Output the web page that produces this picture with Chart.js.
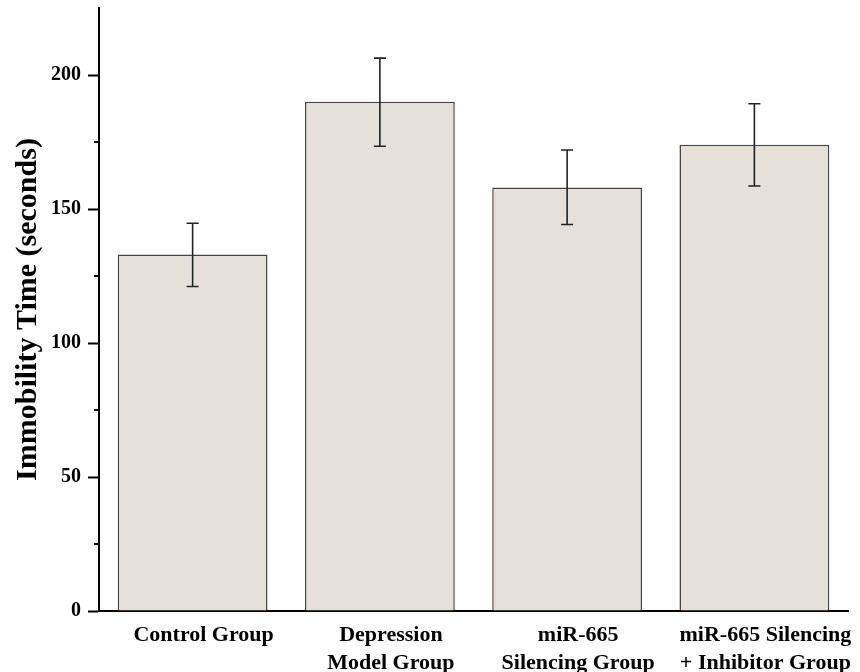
<!DOCTYPE html>
<html>
<head>
<meta charset="utf-8">
<script src="https://cdn.jsdelivr.net/npm/chart.js@4/dist/chart.umd.min.js"></script>
<style>
  html, body { margin: 0; padding: 0; background: #fff; }
</style>
</head>
<body>
<canvas id="grafica" width="860" height="672"></canvas>
<script>
const groups = [
    ['Control Group'],
    ['Depression', 'Model Group'],
    ['miR-665', 'Silencing Group'],
    ['miR-665 Silencing', '+ Inhibitor Group']
];
const immobility = [133, 190, 158, 174];
const errUp = [144.7, 206.3, 172.0, 189.3];
const errDown = [121.1, 173.4, 144.2, 158.6];
const yMajor = [0, 50, 100, 150, 200];
const yMinor = [25, 75, 125, 175];

const serif = '"Liberation Serif", "Times New Roman", serif';

// error bars + minor ticks, drawn through the chart's scales
const extras = {
    id: 'extras',
    afterDatasetsDraw(chart) {
        const ctx = chart.ctx;
        const x = chart.scales.x, y = chart.scales.y;
        ctx.save();
        ctx.strokeStyle = '#222';
        ctx.lineWidth = 1.6;
        immobility.forEach((v, i) => {
            const px = x.getPixelForValue(i);
            const top = y.getPixelForValue(errUp[i]);
            const bot = y.getPixelForValue(errDown[i]);
            ctx.beginPath();
            ctx.moveTo(px, top); ctx.lineTo(px, bot);
            ctx.moveTo(px - 6, top); ctx.lineTo(px + 6, top);
            ctx.moveTo(px - 6, bot); ctx.lineTo(px + 6, bot);
            ctx.stroke();
        });
        ctx.strokeStyle = '#000';
        ctx.lineWidth = 2;
        yMinor.forEach(v => {
            const py = y.getPixelForValue(v);
            ctx.beginPath();
            ctx.moveTo(y.right - 5, py); ctx.lineTo(y.right, py);
            ctx.stroke();
        });
        ctx.restore();
    }
};

new Chart(document.getElementById('grafica'), {
    type: 'bar',
    data: {
        labels: groups,
        datasets: [{
            data: immobility,
            backgroundColor: '#e6e0da',
            borderColor: '#444',
            borderWidth: 1.5,
            barPercentage: 0.8,
            categoryPercentage: 1
        }]
    },
    options: {
        responsive: false,
        animation: false,
        layout: {padding: {top: 8, right: 12, left: 0, bottom: 0}},
        plugins: {legend: {display: false}, tooltip: {enabled: false}},
        scales: {
            x: {
                grid: {display: false},
                border: {display: true, color: '#000', width: 2},
                ticks: {
                    color: '#000',
                    font: {family: serif, size: 22, weight: 'bold', lineHeight: 1.27},
                    maxRotation: 0,
                    autoSkip: false,
                    padding: 2,
                    labelOffset: 11
                },
                afterFit(scale) {
                    scale.height = 61;
                    scale.paddingLeft = 0;
                    scale.paddingRight = 0;
                }
            },
            y: {
                min: 0,
                max: 225,
                afterBuildTicks(scale) { scale.ticks = yMajor.map(v => ({value: v})); },
                grid: {drawOnChartArea: false, drawTicks: true, tickLength: 11, tickColor: '#000', tickWidth: 2},
                border: {display: true, color: '#000', width: 2},
                ticks: {
                    color: '#000',
                    padding: 7,
                    font: {family: serif, size: 20, weight: 'bold'}
                },
                title: {
                    display: true,
                    text: 'Immobility Time (seconds)',
                    color: '#000',
                    font: {family: serif, size: 30, weight: 'bold'},
                    padding: {top: 10, bottom: 0}
                },
                afterFit(scale) {
                    scale.width = 99;
                    scale.paddingTop = 0;
                    scale.paddingBottom = 0;
                }
            }
        }
    },
    plugins: [extras]
});
</script>
</body>
</html>
